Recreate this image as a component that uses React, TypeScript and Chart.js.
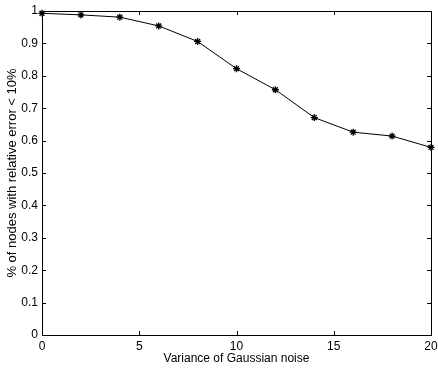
import React, { useEffect, useRef } from "react";
import { Chart, registerables } from "chart.js";

Chart.register(...registerables);

const xValues = [0, 2, 4, 6, 8, 10, 12, 14, 16, 18, 20];
const yValues = [0.993, 0.988, 0.981, 0.954, 0.906, 0.822, 0.757, 0.671, 0.626, 0.614, 0.579];
const xTickLabels = ["0", "5", "10", "15", "20"];
const yTickLabels = ["0", "0.1", "0.2", "0.3", "0.4", "0.5", "0.6", "0.7", "0.8", "0.9", "1"];
const xTitle = "Variance of Gaussian noise";
const yTitle = "% of nodes with relative error < 10%";

const FONT = "'Liberation Sans', Arial, Helvetica, sans-serif";

const boxPlugin = {
  id: "matlabBox",
  afterDatasetsDraw(chart: any) {
    const { ctx, chartArea, scales } = chart;
    const { left, right, top, bottom } = chartArea;
    const x = scales.x;
    const y = scales.y;
    const L = 4;
    ctx.save();
    ctx.strokeStyle = "#000";
    ctx.lineWidth = 1;
    ctx.beginPath();
    x.ticks.forEach((t: any) => {
      const px = Math.round(x.getPixelForValue(t.value)) + 0.5;
      ctx.moveTo(px, bottom);
      ctx.lineTo(px, bottom - L);
      ctx.moveTo(px, top);
      ctx.lineTo(px, top + L);
    });
    y.ticks.forEach((t: any) => {
      const py = Math.round(y.getPixelForValue(t.value)) + 0.5;
      ctx.moveTo(left, py);
      ctx.lineTo(left + L, py);
      ctx.moveTo(right, py);
      ctx.lineTo(right - L, py);
    });
    ctx.stroke();
    ctx.strokeRect(Math.round(left) + 0.5, Math.round(top) + 0.5, Math.round(right - left), Math.round(bottom - top));
    ctx.restore();
  },
};

export default function App() {
  const ref = useRef<HTMLCanvasElement | null>(null);
  useEffect(() => {
    if (!ref.current) return;
    const chart = new Chart(ref.current, {
      type: "line",
      data: {
        datasets: [
          {
            data: xValues.map((v, i) => ({ x: v, y: yValues[i] })),
            borderColor: "#000",
            backgroundColor: "#000",
            borderWidth: 1,
            pointStyle: "star",
            pointRadius: 3.5,
            pointBorderColor: "#000",
            pointBorderWidth: 1.3,
            tension: 0,
            clip: false,
          } as any,
        ],
      },
      options: {
        responsive: false,
        animation: false,
        layout: { padding: { left: 5, right: 7, top: 11, bottom: 2 } },
        plugins: { legend: { display: false }, tooltip: { enabled: false } },
        scales: {
          x: {
            type: "linear",
            min: 0,
            max: 20,
            grid: { display: false, drawTicks: false },
            border: { display: false },
            ticks: {
              stepSize: 5,
              padding: 4,
              color: "#000",
              font: { family: FONT, size: 12 },
              maxRotation: 0,
              callback: (_v: any, i: number) => xTickLabels[i],
            },
            title: { display: true, text: xTitle, color: "#000", font: { family: FONT, size: 12 }, padding: 0 },
            afterFit: (s: any) => {
              s.height = 31;
              s.paddingLeft = 0;
              s.paddingRight = 0;
            },
          },
          y: {
            type: "linear",
            min: 0,
            max: 1,
            grid: { display: false, drawTicks: false },
            border: { display: false },
            ticks: {
              stepSize: 0.1,
              padding: 4,
              color: "#000",
              font: { family: FONT, size: 12 },
              callback: (_v: any, i: number) => yTickLabels[i],
            },
            title: { display: true, text: yTitle, color: "#000", font: { family: FONT, size: 13 }, padding: 0 },
            afterFit: (s: any) => {
              s.width = 37;
              s.paddingTop = 0;
              s.paddingBottom = 0;
            },
          },
        },
      },
      plugins: [boxPlugin],
    });
    return () => chart.destroy();
  }, []);
  return (
    <div style={{ position: "absolute", left: 0, top: 0, width: 438, height: 368, background: "#fff" }}>
      <canvas ref={ref} width={438} height={368} style={{ display: "block" }} />
    </div>
  );
}
